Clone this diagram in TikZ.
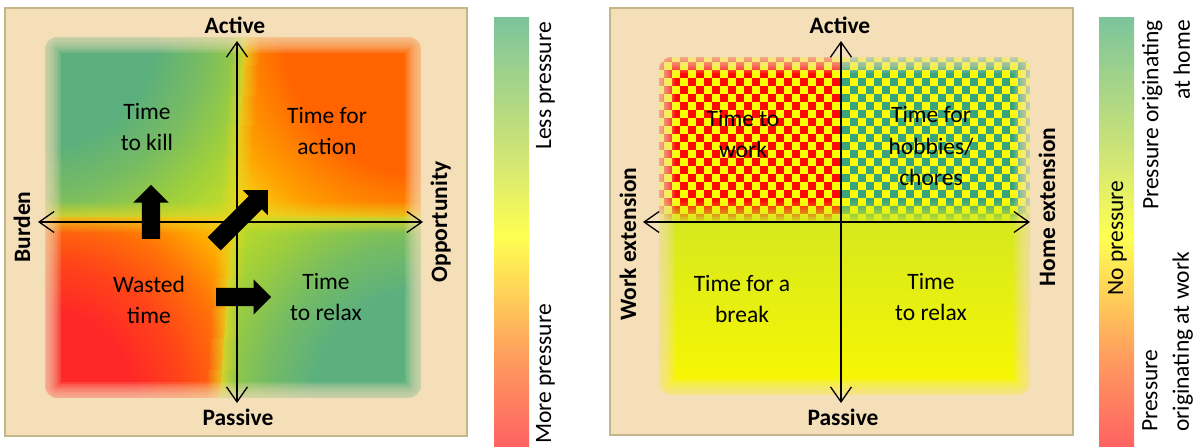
\documentclass[tikz,border=0pt]{standalone}
\usepackage{fontspec}
\setmainfont{Carlito}
\usetikzlibrary{arrows.meta,shapes.arrows,fadings}

\definecolor{bgwheat}{HTML}{F5DFB9}
\definecolor{boxedge}{HTML}{C2B68A}
% left panel quadrant colours (outer corner -> centre)
\definecolor{tlA}{HTML}{5AAF7C}\definecolor{tlB}{HTML}{78BC62}
\definecolor{tlC}{HTML}{A0D03A}\definecolor{tlD}{HTML}{C4DE26}
\definecolor{trA}{HTML}{FF6400}\definecolor{trB}{HTML}{FF7800}
\definecolor{trC}{HTML}{FFA000}\definecolor{trD}{HTML}{F8CC14}
\definecolor{trE}{HTML}{F2E01C}
\definecolor{blA}{HTML}{FF2828}\definecolor{blB}{HTML}{FF4418}
\definecolor{blC}{HTML}{FF7008}\definecolor{blD}{HTML}{FFA800}
\definecolor{blE}{HTML}{F5D418}
\definecolor{brA}{HTML}{5CB07E}\definecolor{brB}{HTML}{76BC62}
\definecolor{brC}{HTML}{9ECE3C}\definecolor{brD}{HTML}{BCDC28}
\definecolor{seamyel}{HTML}{E4D624}
% right panel colours
\definecolor{chkred}{HTML}{FF0A00}\definecolor{chkyel}{HTML}{FFFF00}
\definecolor{chkgrn}{HTML}{3AA57A}\definecolor{chkfade}{HTML}{D2E626}
\definecolor{yltop}{HTML}{D6E81E}\definecolor{ylbot}{HTML}{FAF800}
% colour bar
\definecolor{barRed}{HTML}{FF6262}\definecolor{barOra}{HTML}{FFA05E}
\definecolor{barAmb}{HTML}{FFD258}\definecolor{barYel}{HTML}{FFFF52}
\definecolor{barLim}{HTML}{D2E674}\definecolor{barMint}{HTML}{A6D488}
\definecolor{barGrn}{HTML}{7CC49C}

% the path's box covers 25bp..75bp of a shading
\pgfdeclareradialshading{quadTL}{\pgfpointorigin}{color(0bp)=(tlA); color(9.5bp)=(tlA);
  color(13.8bp)=(tlB); color(18.1bp)=(tlC); color(22bp)=(tlD); color(50bp)=(tlD)}
\pgfdeclareradialshading{quadTR}{\pgfpointorigin}{color(0bp)=(trA); color(12bp)=(trA);
  color(13.8bp)=(trB); color(17.7bp)=(trC); color(20.7bp)=(trD); color(22.8bp)=(trE); color(50bp)=(trE)}
\pgfdeclareradialshading{quadBL}{\pgfpointorigin}{color(0bp)=(blA); color(7.8bp)=(blA);
  color(12bp)=(blB); color(16bp)=(blC); color(19.4bp)=(blD); color(22.6bp)=(blE); color(50bp)=(blE)}
\pgfdeclareradialshading{quadBR}{\pgfpointorigin}{color(0bp)=(brA); color(9.5bp)=(brA);
  color(13.8bp)=(brB); color(18.1bp)=(brC); color(22bp)=(brD); color(50bp)=(brD)}
\pgfdeclareverticalshading{pressurebar}{100bp}{color(0bp)=(barRed); color(25bp)=(barRed);
  color(36bp)=(barOra); color(43bp)=(barAmb); color(49.5bp)=(barYel); color(58.5bp)=(barLim);
  color(67bp)=(barMint); color(75bp)=(barGrn); color(100bp)=(barGrn)}
\tikzfading[name=fadeup, top color=transparent!100, bottom color=transparent!0]
\tikzfading[name=seamx, left color=transparent!100, right color=transparent!100, middle color=transparent!25]
\tikzfading[name=seamy, top color=transparent!100, bottom color=transparent!100, middle color=transparent!25]

\begin{document}
\begin{tikzpicture}[x=1pt,y=-1pt,
  every node/.style={font=\fontsize{23.5}{31.5}\selectfont},
  axis/.style={line width=1.3pt,{Straight Barb[length=15pt,width=21pt]}-{Straight Barb[length=15pt,width=21pt]}},
  axlabel/.style={font=\fontsize{23.5}{31.5}\selectfont\bfseries, anchor=base, inner sep=0pt},
  quadtext/.style={align=center, inner sep=0pt},
  barlabel/.style={rotate=90, inner sep=0pt},
  blockarrow/.style={single arrow, fill=black, inner xsep=0pt, inner ysep=9pt,
    single arrow head extend=8.5pt, single arrow tip angle=90, minimum height=#1, anchor=tail},
  panelbox/.style={fill=bgwheat, draw=boxedge, line width=2.5pt},
  softedge/.style={bgwheat, opacity=0.15, rounded corners=14pt}]
  \fill[white] (0,0) rectangle (1197,447);
  \useasboundingbox (0,0) rectangle (1197,447);

  % ---------------- left panel ----------------
  \draw[panelbox] (5,8) rectangle (467,436);
  \begin{scope}
    \clip[rounded corners=14pt] (43,35) rectangle (423,400);
    \begin{scope}
      \clip (43,35) -- (246,35) -- (233,217) -- (43,217) -- cycle;
      \shade[shading=quadTL] (43,35) circle (290pt);
    \end{scope}
    \begin{scope}
      \clip (246,35) -- (423,35) -- (423,217) -- (233,217) -- cycle;
      \shade[shading=quadTR] (423,35) circle (290pt);
    \end{scope}
    \begin{scope}
      \clip (43,217) -- (233,217) -- (220,400) -- (43,400) -- cycle;
      \shade[shading=quadBL] (43,400) circle (290pt);
    \end{scope}
    \begin{scope}
      \clip (233,217) -- (423,217) -- (423,400) -- (220,400) -- cycle;
      \shade[shading=quadBR] (423,400) circle (290pt);
    \end{scope}
    % soften the seams between the quadrants
    \fill[seamyel, path fading=seamy] (43,201) rectangle (423,233);
    \foreach \k in {0,...,11}
      \fill[seamyel, path fading=seamx]
        ({246-26*(\k+0.5)/12-15},{35+365*\k/12}) rectangle ++(30,{365/12});
  \end{scope}
  % soft edge
  \foreach \w in {4,8,...,36}
    \draw[softedge, line width=\w pt] (43,35) rectangle (423,400);
  \draw[softedge, opacity=1, line width=4pt] (43,35) rectangle (423,400);

  \coordinate (LaxT) at (237,41);
  \coordinate (LaxB) at (237,403);
  \coordinate (LaxW) at (38,222);
  \coordinate (LaxE) at (423,222);
  \draw[axis] (LaxW) -- (LaxE);
  \draw[axis] (LaxB) -- (LaxT);

  \node[axlabel] (actL) at (235,33) {Active};
  \node[axlabel] (pasL) at (238,425) {Passive};
  \node[axlabel, rotate=90] (burden) at (30,227) {Burden};
  \node[axlabel, rotate=90] (opport) at (447,222) {Opportunity};

  \node[quadtext] (killT) at (147,127) {Time\\to kill};
  \node[quadtext] (actionT) at (327,131) {Time for\\action};
  \node[quadtext] (wastedT) at (149,300) {Wasted\\time};
  \node[quadtext] (relaxL) at (326,297) {Time\\to relax};

  \node[blockarrow=54pt, rotate=90] (toKill) at (151,239) {};
  \node[blockarrow=76pt, rotate=45] (toAction) at (214,244) {};
  \node[blockarrow=55pt] (toRelax) at (216,297) {};

  % colour bar
  \shade[shading=pressurebar] (494,17) rectangle (529,447);
  \node[barlabel, anchor=base east] (lessP) at (551,22) {Less pressure};
  \node[barlabel, anchor=base west] (moreP) at (551,444) {More pressure};

  % ---------------- right panel ----------------
  \draw[panelbox] (610,8) rectangle (1073,435);
  \begin{scope}
    \clip[rounded corners=14pt] (657,55) rectangle (1032,397);
    % work side checker
    \fill[chkred] (656,54) rectangle (841,222);
    \foreach \i in {0,...,22}{
      \foreach \j in {0,...,20}{
        \pgfmathtruncatemacro{\cell}{mod(\i+\j,2)}
        \ifnum\cell=0 \fill[chkyel] ({656+8*\i},{54+8*\j}) rectangle ++(8,8);\fi
      }}
    % home side checker
    \fill[chkgrn] (841,54) rectangle (1034,222);
    \foreach \i in {0,...,23}{
      \foreach \j in {0,...,20}{
        \pgfmathtruncatemacro{\cell}{mod(\i+\j,2)}
        \ifnum\cell=0 \fill[chkyel] ({842+8*\i},{54+8*\j}) rectangle ++(8,8);\fi
      }}
    \fill[chkfade, path fading=fadeup] (656,200) rectangle (1034,222);
    \shade[top color=yltop, bottom color=ylbot] (656,222) rectangle (1034,397);
  \end{scope}
  \foreach \w in {4,8,...,36}
    \draw[softedge, line width=\w pt] (657,55) rectangle (1032,397);
  \draw[softedge, opacity=1, line width=4pt] (657,55) rectangle (1032,397);

  \coordinate (RaxT) at (841,41);
  \coordinate (RaxB) at (841,403);
  \coordinate (RaxW) at (643,222);
  \coordinate (RaxE) at (1030,222);
  \draw[axis] (RaxW) -- (RaxE);
  \draw[axis] (RaxB) -- (RaxT);

  \node[axlabel] (actR) at (840,33) {Active};
  \node[axlabel] (pasR) at (843,425) {Passive};
  \node[axlabel, rotate=90] (workext) at (636,244) {Work extension};
  \node[axlabel, rotate=90] (homeext) at (1055,207) {Home extension};

  \node[quadtext] (workT) at (743,134) {Time to\\work};
  \node[quadtext] (hobbyT) at (931,146) {Time for\\hobbies/\\chores};
  \node[quadtext] (breakT) at (742,299) {Time for a\\break};
  \node[quadtext] (relaxR) at (931,297) {Time\\to relax};

  % colour bar
  \shade[shading=pressurebar] (1099,17) rectangle (1134,447);
  \node[barlabel, anchor=base] (noP) at (1123,238) {No pressure};
  \node[barlabel, anchor=north east, align=right] (homeP) at (1142,20) {Pressure originating\\at home};
  \node[barlabel, anchor=north west, align=left] (workP) at (1142,432) {Pressure\\originating at work};
\end{tikzpicture}
\end{document}
